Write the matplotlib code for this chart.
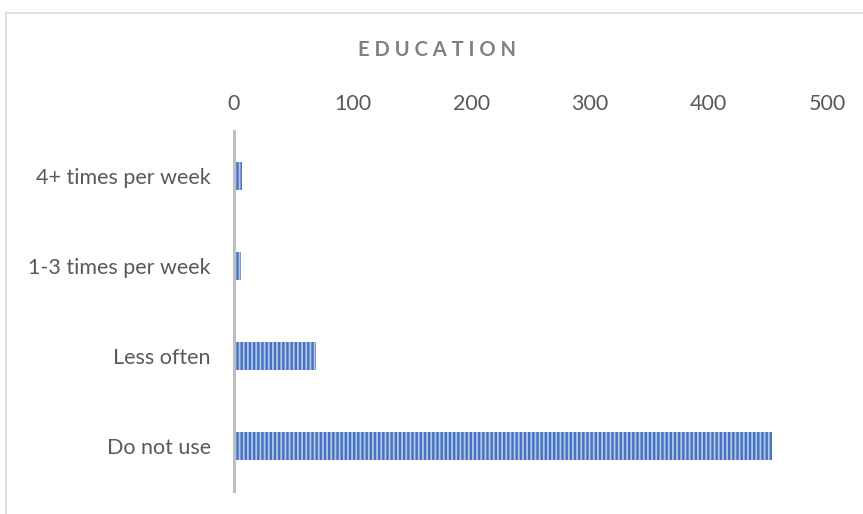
import matplotlib.pyplot as plt
import numpy as np
from matplotlib.lines import Line2D

categories = ['Do not use', 'Less often', '1-3 times per week', '4+ times per week']
counts = [453, 69, 6, 7]
xticks = [0, 100, 200, 300, 400, 500]

plt.rcParams['font.family'] = ['Lato', 'DejaVu Sans']
plt.rcParams['hatch.linewidth'] = 1.3

fig = plt.figure(figsize=(8.63, 5.14), dpi=100)
ax = fig.add_axes([0.271, 0.045, 0.688, 0.70])

y = np.arange(len(categories))
ax.barh(y, counts, height=0.31, color='#4472c4', edgecolor='#b4c7e7',
        linewidth=0, hatch='||||')

ax.set_xlim(0, 500)
ax.set_ylim(-0.5, len(categories) - 0.5)
ax.set_xticks(xticks)
ax.set_yticks(y)
ax.set_yticklabels(categories)
ax.xaxis.tick_top()
ax.tick_params(axis='both', length=0, labelsize=15.5, labelcolor='#595959')
ax.tick_params(axis='x', pad=12)
ax.tick_params(axis='y', pad=16.5)

for side in ['top', 'right', 'bottom']:
    ax.spines[side].set_visible(False)
ax.spines['left'].set_color('#bfbfbf')
ax.spines['left'].set_linewidth(2.2)

fig.text(0.506, 0.902, 'E D U C A T I O N', ha='center', va='center',
         fontsize=14.5, fontweight='bold', color='#808080')

# outer frame (top and left edges only)
fig.add_artist(Line2D([0.007, 1.0], [0.975, 0.975], color='#d9d9d9', lw=1.2))
fig.add_artist(Line2D([0.007, 0.007], [0.0, 0.975], color='#d9d9d9', lw=1.2))

fig.savefig('out.png', dpi=100)
